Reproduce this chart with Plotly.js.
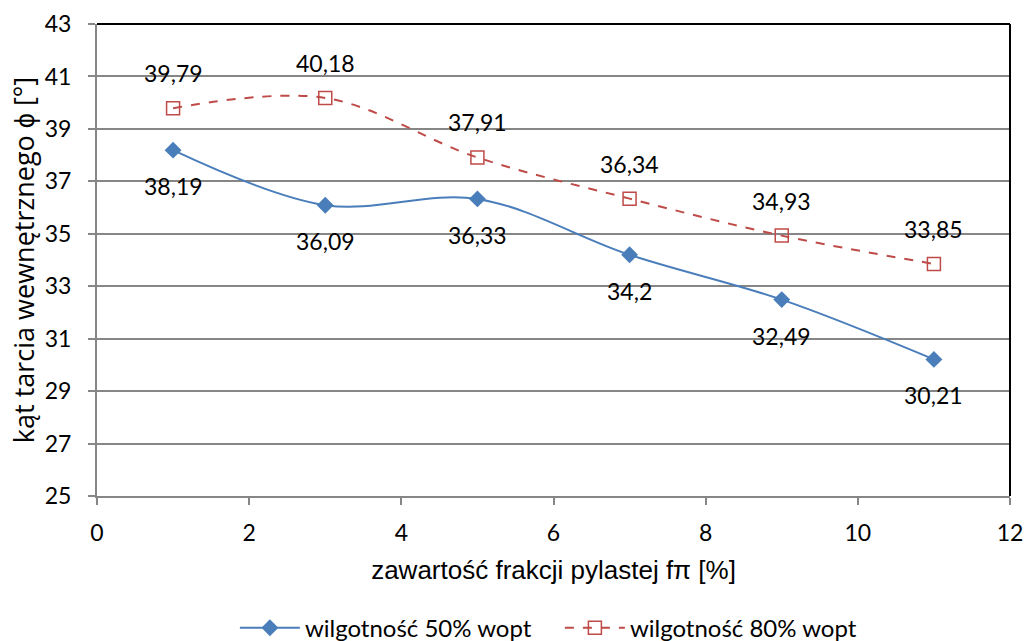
<!DOCTYPE html>
<html><head><meta charset="utf-8">
<script src="https://cdn.plot.ly/plotly-3.0.1.min.js"></script>
<style>html,body{margin:0;padding:0;background:#fff}#chart{width:1026px;height:641px}</style>
</head><body><div id="chart"></div>
<script>
const xValues = [1, 3, 5, 7, 9, 11];
const series50 = [38.19, 36.09, 36.33, 34.2, 32.49, 30.21];
const series80 = [39.79, 40.18, 37.91, 36.34, 34.93, 33.85];
const name50 = 'wilgotność 50% wopt';
const name80 = 'wilgotność 80% wopt';
const fmt = v => String(v).replace('.', ',');
const tickFont = {family: 'Lato, "Open Sans", sans-serif', size: 23, color: '#000'};

const traces = [
  {x: xValues, y: series50, name: name50, mode: 'lines+markers', type: 'scatter',
   line: {color: '#4a7ebb', width: 2, shape: 'spline', smoothing: 1},
   marker: {symbol: 'diamond', size: 13, color: '#4a7ebb'}},
  {x: xValues, y: series80, name: name80, mode: 'lines+markers', type: 'scatter',
   line: {color: '#be4b48', width: 2, dash: 'dash', shape: 'spline', smoothing: 1},
   marker: {symbol: 'square-open', size: 13, color: '#be4b48', line: {width: 1.5}}}
];

const annotations = [];
xValues.forEach((x, i) => {
  annotations.push({x: x, y: series50[i], text: fmt(series50[i]), showarrow: false, yshift: -36, font: tickFont});
  annotations.push({x: x, y: series80[i], text: fmt(series80[i]), showarrow: false, yshift: 35, font: tickFont});
});

const layout = {
  width: 1026, height: 641,
  margin: {l: 97, r: 16, t: 24, b: 145, autoexpand: false},
  paper_bgcolor: '#fff', plot_bgcolor: '#fff',
  showlegend: true,
  legend: {orientation: 'h', x: 0.507, xanchor: 'center', y: -0.28, yanchor: 'middle',
           entrywidth: 250, entrywidthmode: 'pixels',
           font: {family: 'Lato, "Open Sans", sans-serif', size: 24, color: '#000'}, itemwidth: 60},
  xaxis: {range: [0, 12], dtick: 2, tick0: 0, showgrid: false, zeroline: false,
          showline: true, linecolor: '#868686', linewidth: 2,
          ticks: 'outside', ticklen: 7, tickcolor: '#868686', tickwidth: 2,
          tickfont: tickFont, ticklabelstandoff: 8,
          title: {text: 'zawartość frakcji pylastej fπ [%]', standoff: 16,
                  font: {family: '"Liberation Sans", Arial, sans-serif', size: 26, color: '#000'}}},
  yaxis: {range: [25, 43], dtick: 2, tick0: 25, showgrid: true, gridcolor: '#868686', gridwidth: 2,
          zeroline: false, showline: true, linecolor: '#868686', linewidth: 2,
          ticks: 'outside', ticklen: 7, tickcolor: '#868686', tickwidth: 2,
          tickfont: tickFont, ticklabelstandoff: 12,
          title: {text: 'kąt tarcia wewnętrznego ϕ [°]', standoff: 2,
                  font: {family: '"Open Sans", sans-serif', size: 27, color: '#000'}}},
  annotations: annotations,
  shapes: [
    {type: 'line', xref: 'paper', yref: 'paper', x0: 0, x1: 1, y0: 1, y1: 1, line: {color: '#000', width: 2}},
    {type: 'line', xref: 'paper', yref: 'paper', x0: 1, x1: 1, y0: 0, y1: 1, line: {color: '#000', width: 2}}
  ]
};
Plotly.newPlot('chart', traces, layout, {displayModeBar: false});
</script></body></html>
